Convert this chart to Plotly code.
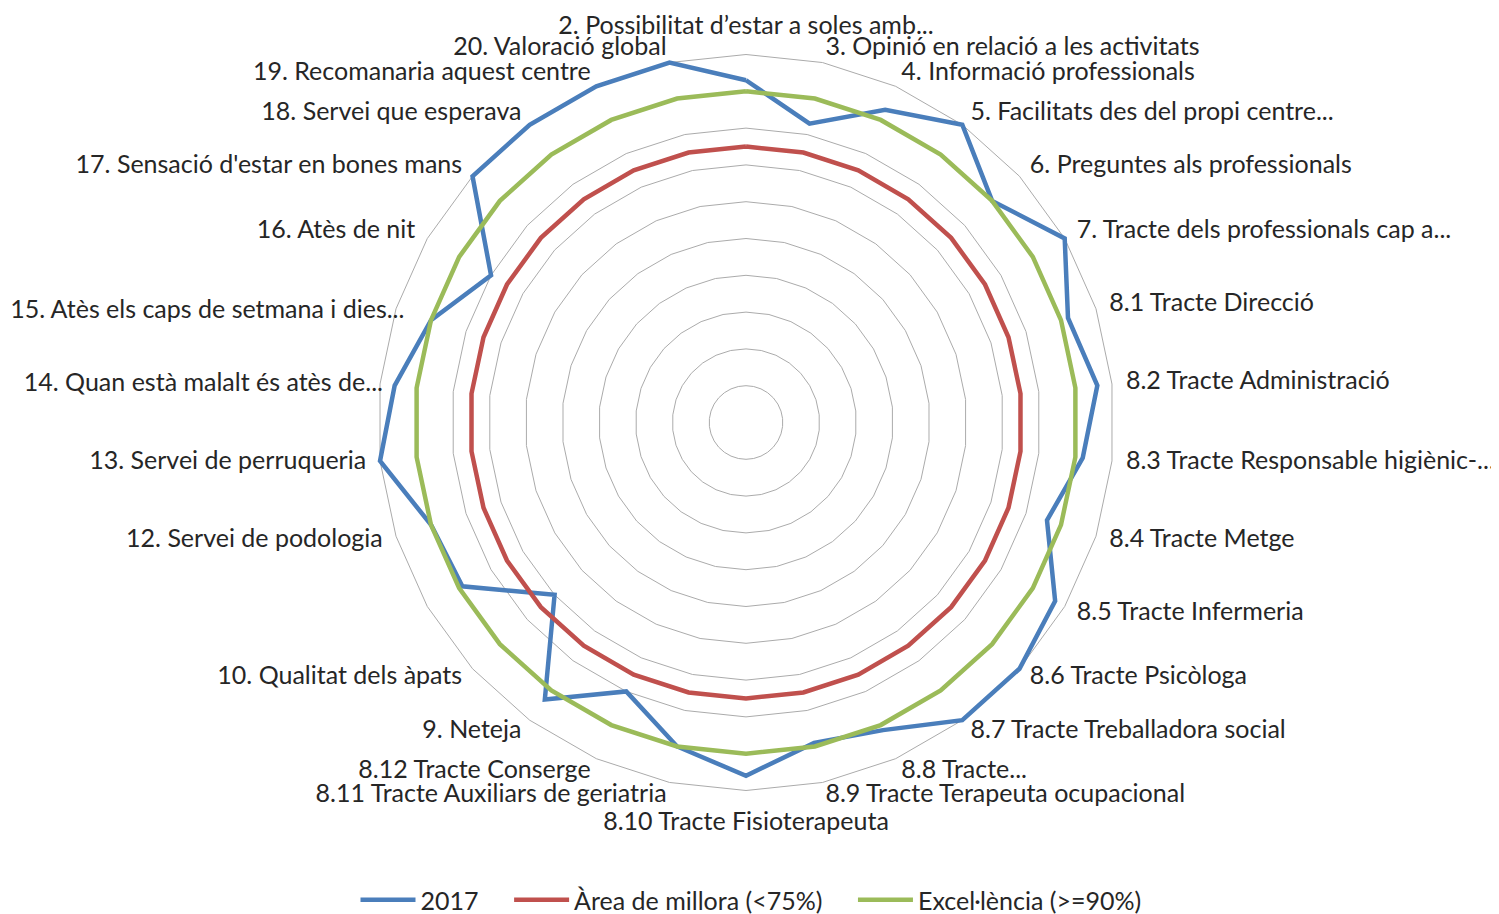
import plotly.graph_objects as go

categories = [
    "2. Possibilitat d’estar a soles amb...",
    "3. Opinió en relació a les activitats",
    "4. Informació professionals",
    "5. Facilitats des del propi centre...",
    "6. Preguntes als professionals",
    "7. Tracte dels professionals cap a...",
    "8.1 Tracte Direcció",
    "8.2 Tracte Administració",
    "8.3 Tracte Responsable higiènic-...",
    "8.4 Tracte Metge",
    "8.5 Tracte Infermeria",
    "8.6 Tracte Psicòloga",
    "8.7 Tracte Treballadora social",
    "8.8 Tracte...",
    "8.9 Tracte Terapeuta ocupacional",
    "8.10 Tracte Fisioterapeuta",
    "8.11 Tracte Auxiliars de geriatria",
    "8.12 Tracte Conserge",
    "9. Neteja",
    "10. Qualitat dels àpats",
    "11.",
    "12. Servei de podologia",
    "13. Servei de perruqueria",
    "14. Quan està malalt és atès de...",
    "15. Atès els caps de setmana i dies...",
    "16. Atès de nit",
    "17. Sensació d'estar en bones mans",
    "18. Servei que esperava",
    "19. Recomanaria aquest centre",
    "20. Valoració global",
]

values_2017 = [0.93, 0.83, 0.93, 1.00, 0.90, 1.00, 0.92, 0.96, 0.92, 0.86,
               0.97, 1.00, 1.00, 0.915, 0.89, 0.96, 0.90, 0.80, 0.93, 0.70,
               0.89, 0.90, 1.00, 0.96, 0.90, 0.80, 1.00, 1.00, 1.00, 1.00]

values_millora = [0.75, 0.75, 0.75, 0.75, 0.75, 0.75, 0.75, 0.75, 0.75, 0.75,
                  0.75, 0.75, 0.75, 0.75, 0.75, 0.75, 0.75, 0.75, 0.75, 0.75,
                  0.75, 0.75, 0.75, 0.75, 0.75, 0.75, 0.75, 0.75, 0.75, 0.75]

values_excel = [0.90, 0.90, 0.90, 0.90, 0.90, 0.90, 0.90, 0.90, 0.90, 0.90,
                0.90, 0.90, 0.90, 0.90, 0.90, 0.90, 0.90, 0.90, 0.90, 0.90,
                0.90, 0.90, 0.90, 0.90, 0.90, 0.90, 0.90, 0.90, 0.90, 0.90]

series_names = ["2017", "Àrea de millora (<75%)", "Excel·lència (>=90%)"]
series_values = [values_2017, values_millora, values_excel]
colors = ["#4A7EBB", "#C0504D", "#9BBB59"]

FONT = "Lato"
TEXT = "#262626"
GRID = "#ababab"
LABEL_PX = 25
RMAX = 1.06              # radial range extends a little past the outer ring
LABEL_R = 1.038          # category labels sit just outside the outer ring
# labels nudged like the original (kept inside the chart area / clear of neighbours)
LABEL_R_OVERRIDE = {
    "8.10 Tracte Fisioterapeuta": 1.057,
    "14. Quan està malalt és atès de...": 0.992,
    "15. Atès els caps de setmana i dies...": 0.976,
}
NB = "\u00a0"

fig = go.Figure()
for k, (name, vals, col) in enumerate(zip(series_names, series_values, colors)):
    pad = NB * 4 if k < len(series_names) - 1 else ""
    fig.add_trace(go.Scatterpolar(
        r=vals + vals[:1],
        theta=categories + categories[:1],
        mode="lines",
        name=name + pad,
        line=dict(color=col, width=4.5),
    ))

# category labels (category 11 carries no visible label)
n = len(categories)
label_text = ["" if c == "11." else c for c in categories]
label_r = [LABEL_R_OVERRIDE.get(c, LABEL_R) for c in categories]
label_pos = []
for i in range(n):
    ang = 360.0 * i / n
    if ang == 0:
        label_pos.append("top center")
    elif ang == 180:
        label_pos.append("bottom center")
    elif ang < 180:
        label_pos.append("middle right")
    else:
        label_pos.append("middle left")

fig.add_trace(go.Scatterpolar(
    r=label_r,
    theta=categories,
    mode="text",
    text=label_text,
    textposition=label_pos,
    textfont=dict(family=FONT, size=LABEL_PX, color=TEXT),
    cliponaxis=False,
    showlegend=False,
    hoverinfo="skip",
))

# the page body adds an 8px offset; size the figure to fill the window
OFF = 8
W, H = 1499 - OFF, 914 - OFF
cx, cy = 746 - OFF, 422.5 - OFF
R = 368 * RMAX           # ring at r=1.0 has a radius of 368 px
fig.update_layout(
    width=W, height=H,
    margin=dict(l=0, r=0, t=0, b=0, autoexpand=False),
    paper_bgcolor="white",
    font=dict(family=FONT, color=TEXT, size=25),
    polar=dict(
        domain=dict(x=[(cx - R) / W, (cx + R) / W],
                    y=[1 - (cy + R) / H, 1 - (cy - R) / H]),
        gridshape="linear",
        bgcolor="rgba(0,0,0,0)",
        angularaxis=dict(
            type="category",
            categoryarray=categories,
            direction="clockwise",
            rotation=90,
            showgrid=False,
            showline=False,
            ticks="",
            showticklabels=False,
        ),
        radialaxis=dict(
            range=[0, RMAX],
            tick0=0,
            dtick=0.1,
            showticklabels=False,
            showline=False,
            ticks="",
            gridcolor=GRID,
            gridwidth=1,
        ),
    ),
    showlegend=True,
    legend=dict(
        orientation="h",
        x=(751 - OFF) / W, xanchor="center",
        y=1 - (900 - OFF) / H, yanchor="middle",
        font=dict(family=FONT, size=25, color=TEXT),
        itemwidth=55,
        bgcolor="rgba(0,0,0,0)",
    ),
)

fig.write_html("out.html")
